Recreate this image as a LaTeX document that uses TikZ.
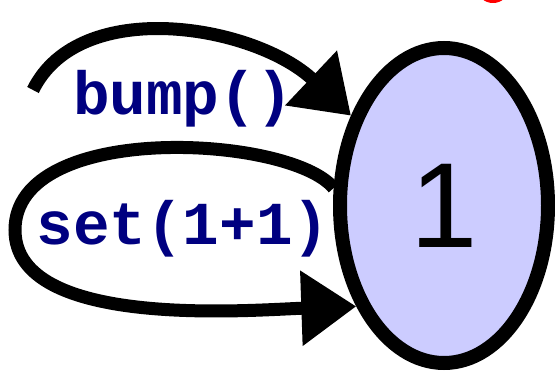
\documentclass[tikz,border=0pt]{standalone}
\usepackage{fontspec}
\usetikzlibrary{arrows.meta,shapes.geometric}
\newfontfamily\labfont{Liberation Mono}
\newfontfamily\numfont{Liberation Sans}
\definecolor{statefill}{HTML}{CCCCFF}
\definecolor{labnavy}{HTML}{000080}
\tikzset{
  state/.style={ellipse, draw=black, line width=14pt, fill=statefill, inner sep=0pt,
    minimum width=208pt, minimum height=315pt, font=\numfont\fontsize{121}{121}\selectfont},
  trans/.style={line width=13pt, -{Triangle[length=55pt,width=72pt]}},
  lab/.style={anchor=base, text=labnavy, inner sep=0pt, font=\labfont\bfseries\fontsize{61}{61}\selectfont}
}
\begin{document}
\begin{tikzpicture}[x=1pt,y=-1pt]
\useasboundingbox (0,0) rectangle (555,371);
\clip (0,0) rectangle (555,371);
\fill[red] (493,-10) ellipse (15 and 13);
\node[state] (e) at (444,205.5) {1};
\coordinate (s) at (33,90);
\draw[trans] (s) .. controls (80,-5) and (255,25) .. (e.136);
\draw[trans] (e.171) .. controls (290,135) and (15,120) .. (15,230)
  .. controls (15,330) and (250,310) .. (e.229);
\node[lab] (l1) at (183,115) {bump()};
\node[lab] (l2) at (183,245) {set(1+1)};
\end{tikzpicture}
\end{document}
